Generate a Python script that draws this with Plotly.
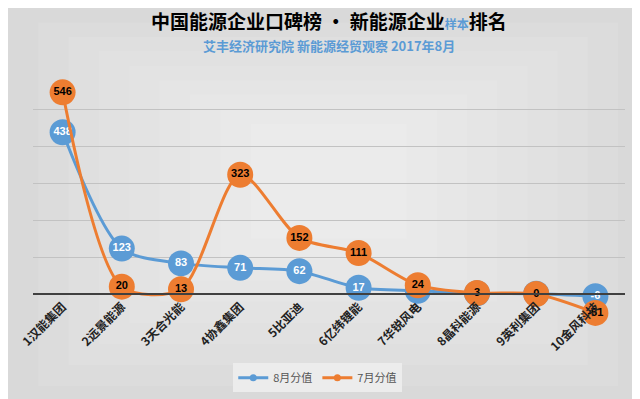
import plotly.graph_objects as go

categories = ["1汉能集团", "2远景能源", "3天合光能", "4协鑫集团", "5比亚迪",
              "6亿纬锂能", "7华锐风电", "8晶科能源", "9英利集团", "10金风科技"]
aug_values = [438, 123, 83, 71, 62, 17, 9, 2, 1, -6]
jul_values = [546, 20, 13, 323, 152, 111, 24, 3, 0, -51]
series_names = ["8月分值", "7月分值"]

BLUE = "#5b9bd5"
ORANGE = "#ed7d31"

fig = go.Figure()
for vals, name, col, tcol in [(aug_values, series_names[0], BLUE, "white"),
                              (jul_values, series_names[1], ORANGE, "black")]:
    fig.add_trace(go.Scatter(
        x=categories, y=vals, name=name, showlegend=False,
        mode="lines+markers+text",
        line=dict(color=col, width=3, shape="spline", smoothing=0.8),
        marker=dict(size=26, color=col),
        text=[str(v) for v in vals], textposition="middle center",
        textfont=dict(color=tcol, size=11, family="Liberation Sans", weight="bold"),
    ))
# legend entries with small markers
for name, col in [(series_names[0], BLUE), (series_names[1], ORANGE)]:
    fig.add_trace(go.Scatter(
        x=[None], y=[None], name=name, mode="lines+markers",
        line=dict(color=col, width=3), marker=dict(size=7, color=col),
    ))

# soft radial-like background: nested translucent white rectangles
L, R, B, T = -25/592, 1 + 23/592, -76/259, 1 + 64/259
cx, cy = 0.5, 0.62
shapes = []
n = 9
for i in range(n):
    f = i / n
    x0 = L + (cx - L) * f * 0.85
    x1 = R - (R - cx) * f * 0.85
    y0 = B + (cy - B) * f * 0.8
    y1 = T - (T - cy) * f * 0.8
    shapes.append(dict(type="rect", xref="paper", yref="paper", x0=x0, x1=x1, y0=y0, y1=y1,
                       fillcolor="white", opacity=0.09, line=dict(width=0), layer="below"))

fig.update_layout(
    width=640, height=399,
    margin=dict(l=25, r=23, t=64, b=76, autoexpand=False),
    paper_bgcolor="#d6d6d6",
    plot_bgcolor="rgba(0,0,0,0)",
    shapes=shapes,
    showlegend=True,
    legend=dict(orientation="h", xref="container", x=0.484, xanchor="center",
                yref="container", y=0.073, yanchor="middle",
                font=dict(size=11, color="#555555", family="Noto Sans CJK SC"),
                bgcolor="#ececec", itemwidth=30, tracegroupgap=0),
    annotations=[
        dict(text="<b>中国能源企业口碑榜 · 新能源企业</b><span style='font-size:12px;color:#5b9bd5'><b>样本</b></span><b>排名</b>",
             xref="paper", yref="paper", x=0.5, y=1.0, xanchor="center", yanchor="bottom",
             yshift=36, showarrow=False,
             font=dict(size=19, color="black", family="Noto Sans CJK SC")),
        dict(text="<b>艾丰经济研究院 新能源经贸观察 2017年8月</b>",
             xref="paper", yref="paper", x=0.5, y=1.0, xanchor="center", yanchor="bottom",
             yshift=15, showarrow=False,
             font=dict(size=13, color=BLUE, family="Noto Sans CJK SC")),
    ],
)
fig.update_xaxes(
    type="category", showgrid=False, anchor="free", position=100/701,
    showline=True, linecolor="#404040", linewidth=2, automargin=False,
    tickangle=-45, ticks="",
    tickfont=dict(size=12, color="#222222", family="Noto Sans CJK SC", weight="bold"),
    range=[-0.5, 9.5], zeroline=False,
)
fig.update_yaxes(
    range=[-100, 601], dtick=100, showgrid=True, gridcolor="#c2c2c2", gridwidth=1,
    showticklabels=False, zeroline=False, showline=False, automargin=False,
)

fig.write_html("out.html")
